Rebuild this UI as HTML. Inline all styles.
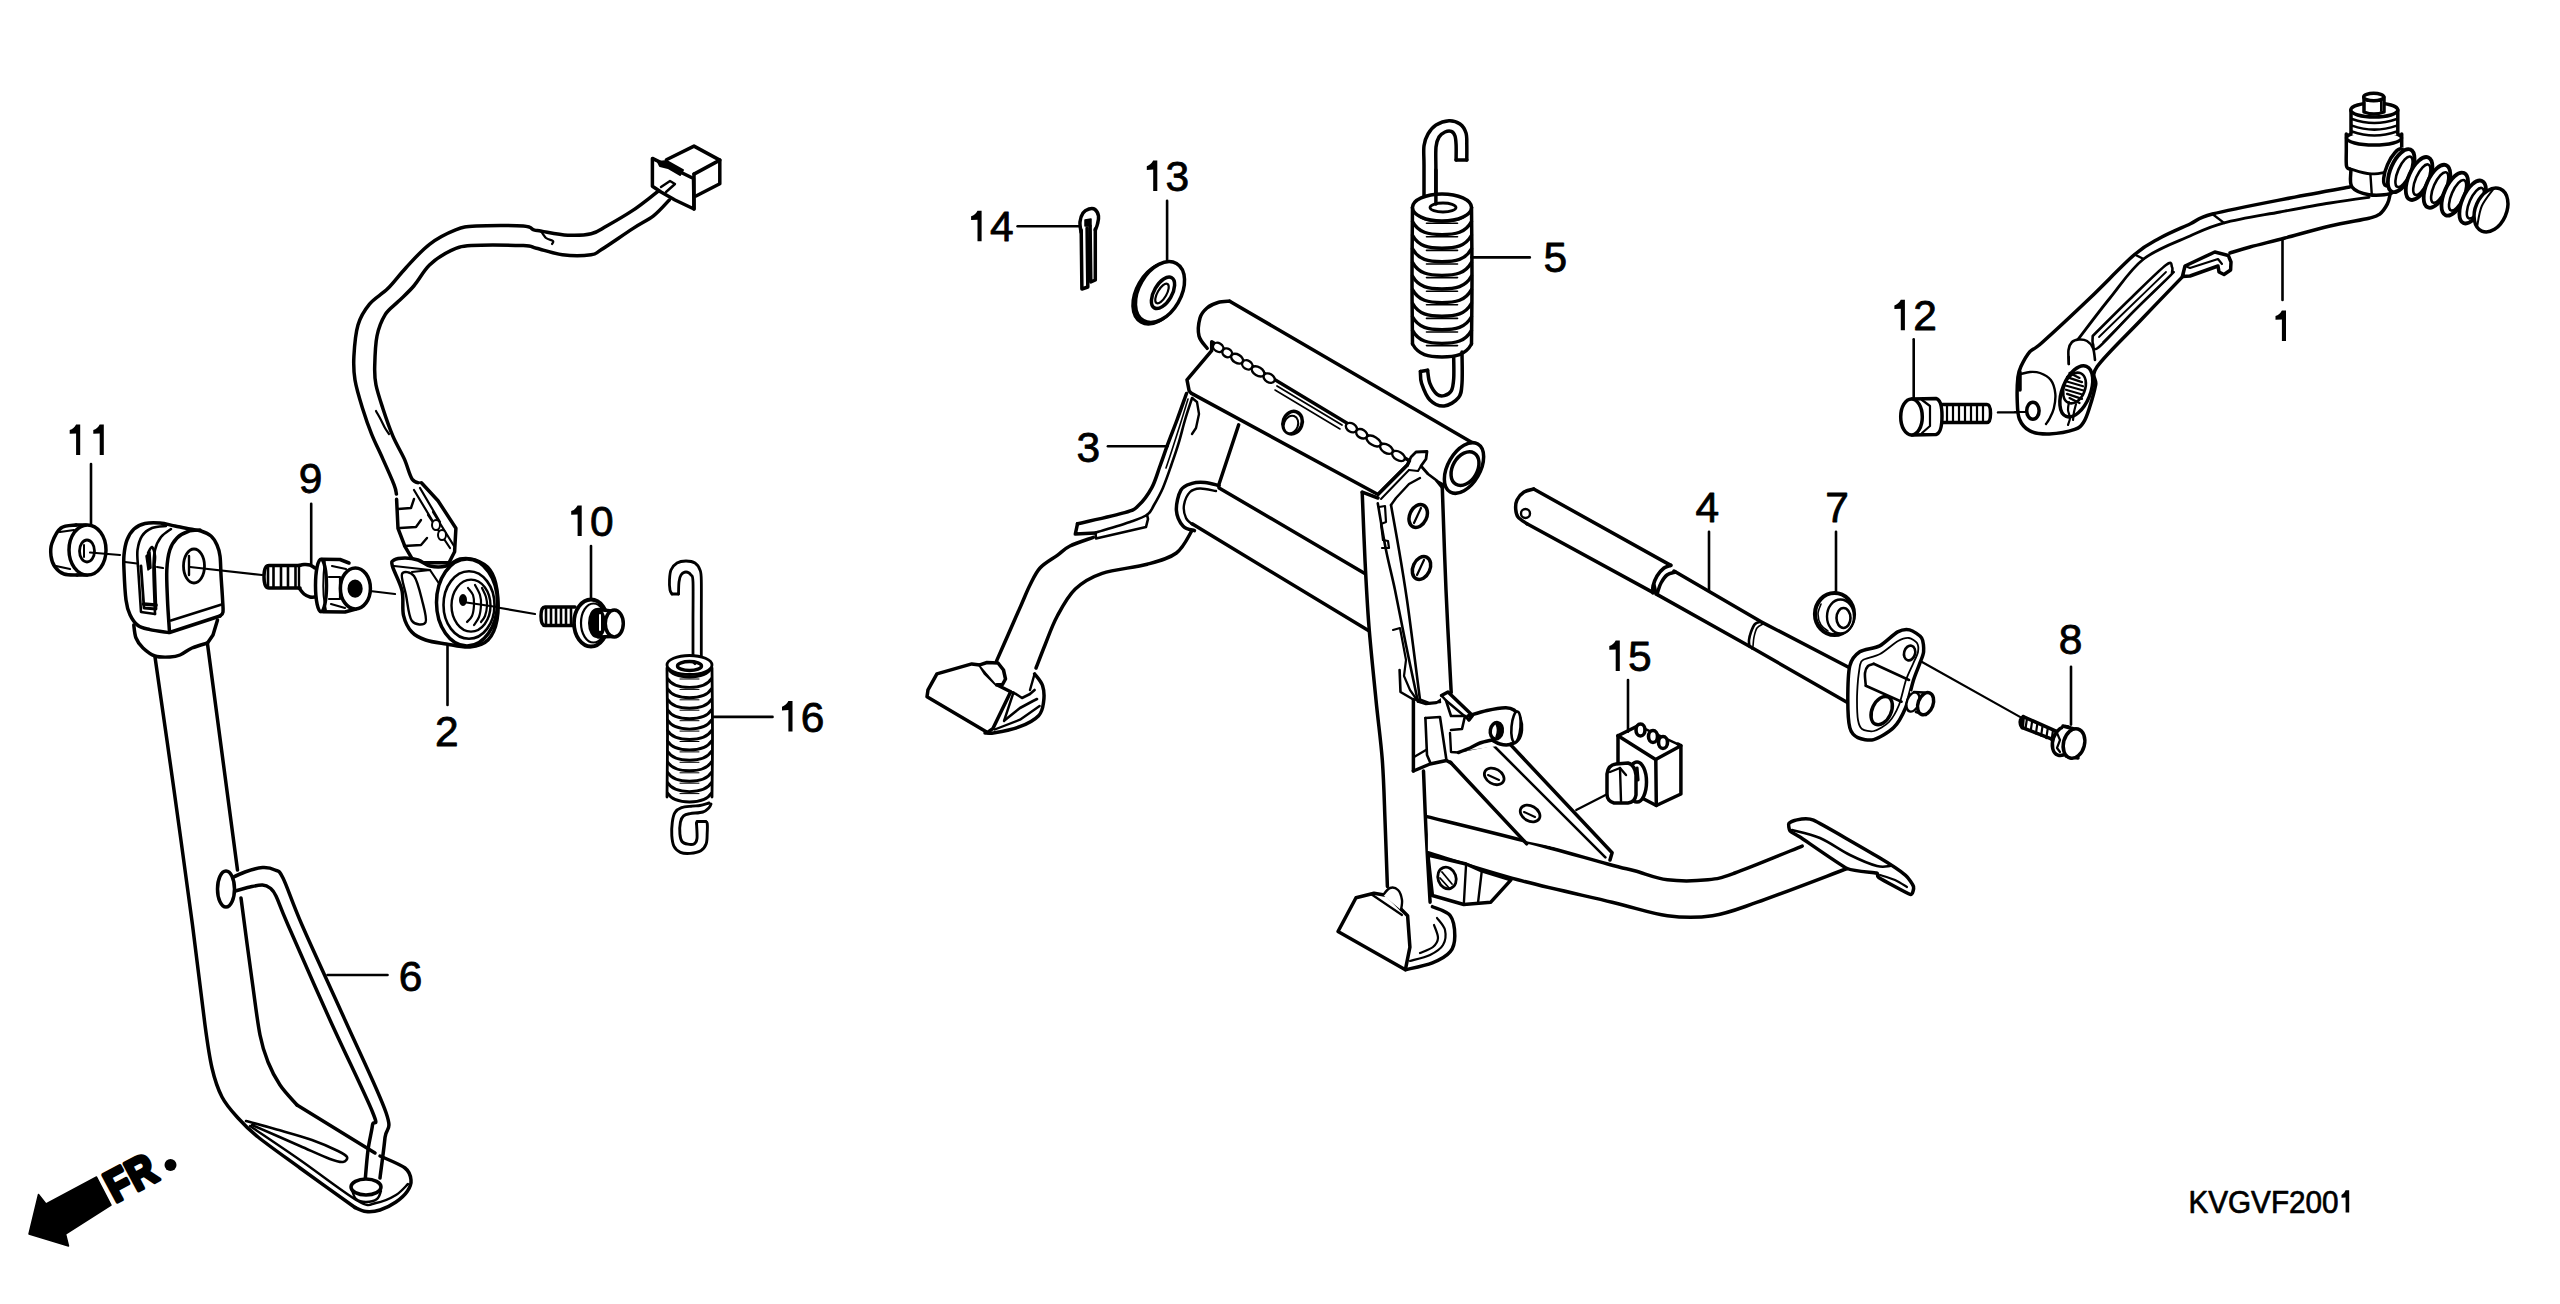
<!DOCTYPE html>
<html><head><meta charset="utf-8"><style>
html,body{margin:0;padding:0;background:#fff;}
svg{display:block;}
svg text{font-family:"Liberation Sans",sans-serif;fill:#000;stroke:none;}
</style></head><body>
<svg width="2560" height="1304" viewBox="0 0 2560 1304" stroke="#000" stroke-linecap="round" stroke-linejoin="round" fill="none">
<rect x="0" y="0" width="2560" height="1304" fill="#fff" stroke="none"/>
<path d="M133.8,625L137.5,642.5L155,657L192.5,925L210,1055L217.5,1087.5L235,1115L255,1135L355,1207.5L357.5,1211L375,1210L395,1202.5L407.5,1192.5L411,1180L407.5,1170L380,1157.5L365,1147.5L300,1107.5L290,1097.5L270,1065L260,1035L242.5,900L207.5,644L217.5,620Z" stroke-width="0" fill="#fff" />
<path d="M155,657C158.2,679.2 167.8,745.3 174,790C180.2,834.7 187.3,885.8 192.5,925C197.7,964.2 201.8,1001.2 205,1025C208.2,1048.8 209.2,1056 212,1068C214.8,1080 217.7,1088.7 222,1097C226.3,1105.3 232,1111.3 238,1118C244,1124.7 247.7,1128.7 258,1137C268.3,1145.3 283.8,1156.2 300,1168C316.2,1179.8 345.8,1200.9 355,1207.5" stroke-width="3.5" fill="none" />
<path d="M355,1207.5C356.8,1208.2 361.8,1211.1 366,1211.5C370.2,1211.9 375,1211.6 380,1210C385,1208.4 391.4,1205.2 396,1202C400.6,1198.8 405,1194.7 407.5,1191C410,1187.3 411.4,1183.8 411,1180C410.6,1176.2 410.2,1172 405,1168C399.8,1164 384.2,1158 380,1156" stroke-width="3.5" fill="none" />
<path d="M250,1126C258.3,1131.7 282,1147.5 300,1160C318,1172.5 345.3,1193.8 358,1201C370.7,1208.2 369.7,1204 376,1203C382.3,1202 390.7,1198.2 396,1195C401.3,1191.8 406,1185.8 408,1184" stroke-width="2.4" fill="none" />
<path d="M207.5,644L237.5,870" stroke-width="3.5" fill="none" />
<path d="M241,898C242.8,911.7 248.8,957.2 252,980C255.2,1002.8 257.3,1021.3 260,1035C262.7,1048.7 264.7,1053.7 268,1062C271.3,1070.3 275.2,1077.8 280,1085C284.8,1092.2 294.2,1101.7 297,1105" stroke-width="3.5" fill="none" />
<path d="M297,1105L375,1153" stroke-width="3.5" fill="none" />
<path d="M246,1121C250.8,1122.3 264,1125.8 275,1129C286,1132.2 301.5,1136.3 312,1140C322.5,1143.7 332.2,1148.2 338,1151C343.8,1153.8 346.2,1155.2 347,1157C347.8,1158.8 345.8,1161.7 343,1162C340.2,1162.3 337.2,1161.7 330,1159C322.8,1156.3 313,1151.7 300,1146C287,1140.3 260,1128.5 252,1125" stroke-width="2.6" fill="none" />
<path d="M133.8,625C134.1,627.2 134.5,634.2 136,638C137.5,641.8 139.8,645 143,648C146.2,651 150.5,654.5 155,656C159.5,657.5 165.8,657.2 170,657C174.2,656.8 176.3,656.5 180,655C183.7,653.5 187.4,650 192,648C196.6,646 204.9,643.8 207.5,643" stroke-width="3.5" fill="none" />
<path d="M207.5,643L213,635L217.5,620" stroke-width="3.5" fill="none" />
<path d="M168.8,632.5C165.7,632 155.1,630.8 150,629.6C144.9,628.4 141.3,628 138,625.5C134.7,623 132,619 130,614.7C128,610.5 127,607.5 126,600C125,592.5 124.3,577.5 124,570C123.7,562.5 123.5,560 124,555C124.5,550 125.3,544.3 127,540C128.7,535.7 131,531.8 134,529C137,526.2 140.7,524.5 145,523.5C149.3,522.5 155,522.6 160,523C165,523.4 170,525 175,526C180,527 185.7,528.2 190,529C194.3,529.8 197.5,529.8 201,531C204.5,532.2 208.3,533.7 211,536C213.7,538.3 215.5,541.7 217,545C218.5,548.3 219.3,551 220,556C220.7,561 220.6,567.7 221,575C221.4,582.3 222.3,593.8 222.6,600C222.9,606.2 223.4,609.3 223,612C222.6,614.7 220.5,615.3 220,616" stroke-width="3.5" fill="#fff" />
<path d="M220,616L169.5,632.5" stroke-width="3.5" fill="none" />
<path d="M221.6,604.5L171,620.5" stroke-width="2.6" fill="none" />
<path d="M169.5,632C169.2,626.7 167.9,610.3 167.5,600C167.1,589.7 166.4,578.3 166.8,570C167.2,561.7 168.1,555.3 169.8,550C171.5,544.7 174,541.1 177,538C180,534.9 184.2,532.8 188,531.5C191.8,530.2 198,530.2 200,530" stroke-width="3.5" fill="none" />
<path d="M138,566C137.9,563.3 136.8,555 137.5,550C138.2,545 139.6,539.7 142,536C144.4,532.3 148,529.7 152,528C156,526.3 163.7,526.3 166,526" stroke-width="2.6" fill="none" />
<path d="M155,614C154.8,606.7 153.5,580.7 153.5,570C153.5,559.3 153.8,555.5 155,550C156.2,544.5 158.3,540.5 161,537C163.7,533.5 169.3,530.3 171,529" stroke-width="2.6" fill="none" />
<path d="M138,566L141,612L155,614" stroke-width="2.6" fill="none" />
<path d="M141,566L144,608L156,609L154.5,566" stroke-width="2.8" fill="none" />
<path d="M143.5,604L156,605" stroke-width="3.6" fill="none" />
<path d="M148,553C148.7,552 150.8,546.5 152,547C153.2,547.5 154.7,552.5 155,556C155.3,559.5 154.2,566 154,568" stroke-width="2.6" fill="none" />
<path d="M146,556L148,570L151,568L150,552Z" stroke-width="1.5" fill="#000" />
<ellipse cx="194" cy="566" rx="10.5" ry="17" stroke-width="2.8" fill="#fff"/>
<path d="M189,556L189,575" stroke-width="2.4" fill="none" />
<path d="M125,562L137,563.5" stroke-width="2.2"/>
<path d="M157,567L163,568" stroke-width="2.2"/>
<path d="M190,567L262,575" stroke-width="2.2"/>
<path d="M230,892.5C233.3,891.6 244.6,888.2 250,887C255.4,885.8 259.2,884.8 262.5,885C265.8,885.2 267.8,886.2 270,888C272.2,889.8 273,889.8 276,896C279,902.2 279,904.3 288,925C297,945.7 315.9,988.8 330,1020C344.1,1051.2 365.4,1094.5 372.5,1112C379.6,1129.5 373.2,1118.7 372.5,1125C371.8,1131.3 369.2,1140.5 368,1150C366.8,1159.5 365.5,1176.7 365,1182" stroke-width="3.5" fill="none" />
<path d="M227.5,880C230.4,878.7 239.2,874.1 245,872C250.8,869.9 257.5,867.8 262.5,867.5C267.5,867.2 271.6,868.2 275,870C278.4,871.8 278.5,868.8 283,878C287.5,887.2 291.7,901.3 302,925C312.3,948.7 331,988.8 345,1020C359,1051.2 379.3,1092.9 386,1112.5C392.7,1132.1 386,1126.6 385,1137.5C384,1148.4 380.8,1171.2 380,1178" stroke-width="3.5" fill="none" />
<ellipse cx="226" cy="889" rx="8.5" ry="18" stroke-width="3.5" fill="#fff"/>
<ellipse cx="366" cy="1187" rx="15" ry="8" stroke-width="3.5" fill="#fff"/>
<path d="M352,1190C352.7,1191.5 353.7,1197 356,1199C358.3,1201 362.5,1202 366,1202C369.5,1202 374.5,1200.8 377,1199C379.5,1197.2 380.3,1192.3 381,1191" stroke-width="2.4" fill="none" />
<path d="M76,525C73.5,525.5 65,525 61,528C57,531 53.7,538.3 52,543C50.3,547.7 50.5,552 51,556C51.5,560 52.8,564 55,567C57.2,570 60.3,572.7 64,574C67.7,575.3 74.8,574.8 77,575" stroke-width="3.5" fill="#fff" />
<path d="M60,532L74,530" stroke-width="2.2" fill="none" />
<path d="M56,566L70,569" stroke-width="2.2" fill="none" />
<path d="M76,525L86,525" stroke-width="3.5" fill="none" />
<path d="M77,575L87,575" stroke-width="3.5" fill="none" />
<ellipse cx="87.5" cy="550" rx="18.5" ry="25" stroke-width="3.5" fill="#fff"/>
<ellipse cx="87" cy="551" rx="7.5" ry="11" stroke-width="2.8" fill="#fff"/>
<path d="M84,545L84,557" stroke-width="2" fill="none" />
<path d="M90,552.5L120,555" stroke-width="2.2"/>
<path d="M300,565.5 L269,565.5 Q264,565.5 264,576.5 Q264,588 269,588 L300,588" stroke-width="3.5" fill="#fff" />
<path d="M268,567L268,586.5" stroke-width="2.6" fill="none" />
<path d="M273.5,567L273.5,586.5" stroke-width="2.6" fill="none" />
<path d="M281,567L281,586.5" stroke-width="2.6" fill="none" />
<path d="M288,567L288,586.5" stroke-width="2.6" fill="none" />
<path d="M295.5,567L295.5,586.5" stroke-width="2.6" fill="none" />
<path d="M299,565.5C299.8,565.3 302.2,564.6 304,564.5C305.8,564.4 308.2,564.4 310,565C311.8,565.6 314.2,567.5 315,568" stroke-width="3.5" fill="none" />
<path d="M299,588C299.8,589 302.2,592.5 304,594C305.8,595.5 308,596.5 310,597C312,597.5 315,597 316,597" stroke-width="3.5" fill="none" />
<path d="M299,566L299,588" stroke-width="2.4" fill="none" />
<path d="M322,559.5 L352,561 L356,611 L322,612 Z" stroke-width="0" fill="#fff" />
<ellipse cx="321" cy="585.5" rx="5.5" ry="26.3" stroke-width="3.5" fill="#fff"/>
<path d="M325,560C324.8,562.5 323.8,569.2 323.5,575C323.2,580.8 323.1,589.2 323.5,595C323.9,600.8 325.6,607.5 326,610" stroke-width="1.8" fill="none" />
<path d="M322,559.3L340,559.5L349,563" stroke-width="3.5" fill="none" />
<path d="M323,611.8L345,612L356,609" stroke-width="3.5" fill="none" />
<path d="M332,566L346,569" stroke-width="2.2" fill="none" />
<path d="M329,577L340,577L340,599L329,599" stroke-width="2.2" fill="none" />
<path d="M331,604L345,608" stroke-width="2.2" fill="none" />
<ellipse cx="355.4" cy="588.4" rx="15" ry="20.5" stroke-width="3.5" fill="#fff"/>
<ellipse cx="355.1" cy="588.7" rx="6.5" ry="8" stroke-width="2.2" fill="#000"/>
<path d="M370,591L395,594" stroke-width="2.2"/>
<path d="M575,607 L545,607 Q541,607 541,616 Q541,625.5 545,625.5 L575,625.5" stroke-width="3.5" fill="#fff" />
<path d="M546,608L546,624.5" stroke-width="2.6" fill="none" />
<path d="M551,608L551,624.5" stroke-width="2.6" fill="none" />
<path d="M556,608L556,624.5" stroke-width="2.6" fill="none" />
<path d="M561,608L561,624.5" stroke-width="2.6" fill="none" />
<path d="M566,608L566,624.5" stroke-width="2.6" fill="none" />
<path d="M571,608L571,624.5" stroke-width="2.6" fill="none" />
<ellipse cx="591" cy="623" rx="17" ry="23.5" stroke-width="3.8" fill="#fff"/>
<ellipse cx="593.5" cy="623" rx="12.5" ry="19.5" stroke-width="2.2" fill="none"/>
<path d="M598,609 L612,611 L613,636 L598,638 Z" stroke-width="0" fill="#fff" />
<ellipse cx="597" cy="623" rx="8" ry="14" stroke-width="2" fill="#000"/>
<path d="M600,615 L600,630" stroke="#fff" stroke-width="2"/>
<path d="M598,609.5L612,611" stroke-width="3.5" fill="none" />
<path d="M598,637L612,636.5" stroke-width="3.5" fill="none" />
<ellipse cx="614.3" cy="623.5" rx="9" ry="13.5" stroke-width="3.5" fill="#fff"/>
<path d="M497.5,607.5L535,614" stroke-width="2.2"/>
<path d="M666.7,184.3C664.6,186 659.4,190.3 653.8,194.7C648.1,199 640.6,205.2 632.8,210.4C624.9,215.6 613.7,222.1 606.7,226C599.8,229.9 597.6,232.3 591.1,233.8C584.6,235.3 576,235.6 567.7,235.2C559.5,234.8 547.2,232.1 541.6,231.2C536,230.3 536.8,230.8 533.8,229.9C530.8,229 532.9,226.7 523.3,226C513.7,225.3 487.7,225.3 476.4,226C465.1,226.7 463.4,226.8 455.6,229.9C447.8,233 437.8,238 429.5,244.3C421.2,250.6 412.9,260.3 406,267.7C399.1,275.1 393.9,282.5 387.8,288.6C381.7,294.7 374.5,298.1 369.5,304.2C364.5,310.3 360.6,316.3 358,325C355.4,333.7 354.4,347.2 353.9,356.4C353.4,365.6 353.6,371.4 355,380C356.4,388.6 359.7,399.2 362.5,408.2C365.3,417.2 368.2,425.7 371.6,434.1C375,442.6 379.1,450.4 382.8,458.9C386.6,467.3 391.8,478.9 394.1,484.8C396.4,490.7 396,492.5 396.4,494" stroke-width="3.5" fill="none" />
<path d="M669.3,200C666.7,202.6 659.9,210.8 653.8,215.6C647.7,220.4 641.5,222.9 632.8,228.6C624.1,234.2 608.5,245.2 601.5,249.5C594.5,253.8 597.6,253.8 591.1,254.7C584.6,255.6 571.5,255.8 562.4,254.7C553.3,253.6 542.9,249.7 536.4,248.2C529.9,246.7 534.2,246 523.3,245.6C512.4,245.2 483.4,244.7 471.2,245.6C459,246.5 457.2,247.6 450.3,250.8C443.4,254.1 435.6,259.2 429.5,265.1C423.4,271 419,279.9 413.8,286C408.6,292.1 403,296.8 398.2,301.6C393.4,306.4 388.7,309 385.2,314.7C381.7,320.4 378.8,327.3 377,336C375.2,344.7 374.9,358.6 374.7,366.8C374.5,375 374.6,378.1 376,385C377.4,391.9 380,399.6 382.8,408.2C385.6,416.8 389.4,427.9 393,436.4C396.6,444.8 401.1,451.8 404.3,458.9C407.5,466 409.4,475.1 412.2,479.2C415,483.3 419.1,482.4 421.2,483.7C423.3,485 424,486.5 424.6,487.1" stroke-width="3.5" fill="none" />
<path d="M541,231C541.8,232.2 544,236.3 546,238C548,239.7 552,240 553,241C554,242 552.2,243.5 552,244" stroke-width="2.2" fill="none" />
<path d="M376,411C376.8,412.5 379.5,417.2 381,420C382.5,422.8 383.7,425.7 385,428C386.3,430.3 388.3,433 389,434" stroke-width="2.2" fill="none" />
<path d="M652.4,158.4L693.5,178.5L694,209L675,200L661,192L652.4,186.3Z" stroke-width="3.5" fill="#fff" />
<path d="M666.4,159.7L694,146.1L719.8,160.1L694,174.1" stroke-width="3.5" fill="none" />
<path d="M719.8,160.1L719.8,183.7L696,196" stroke-width="3.5" fill="none" />
<path d="M694,174.1L694,209" stroke-width="3.5" fill="none" />
<path d="M658,162L667,161L683,170L680,175L668,168L660,166Z" stroke-width="2" fill="#000" />
<path d="M661,187L670,181L675,184L666,192" stroke-width="2.4" fill="none" />
<path d="M396.6,499.3L398,528.3L404.9,546.3L414.5,562.8L449,562.8L454.6,551.8L455.9,528.3L438,500.7L421.4,482.8" stroke-width="3.5" fill="#fff" />
<path d="M398,509L411,508L414,499" stroke-width="2.4" fill="none" />
<path d="M400,528L416,527L421,520" stroke-width="2.4" fill="none" />
<path d="M404,546L421,545L427,538" stroke-width="2.4" fill="none" />
<path d="M414,490L432,520" stroke-width="2.2" fill="none" />
<path d="M420,488L440,522" stroke-width="2.2" fill="none" />
<path d="M428,515L450,548" stroke-width="2.2" fill="none" />
<path d="M433,512L454,546" stroke-width="2.2" fill="none" />
<ellipse cx="436" cy="525" rx="4" ry="5" stroke-width="2" fill="#fff"/>
<ellipse cx="442" cy="535" rx="4" ry="5" stroke-width="2" fill="#fff"/>
<path d="M392.4,566C391.1,560.9 391.9,561.3 394,560C396.1,558.7 401,558 405,558C409,558 413.8,558.7 418,560C422.2,561.3 425.3,565 430,566C434.7,567 441,567.2 446,566C451,564.8 455.2,560 460,559C464.8,558 470,558.2 475,560C480,561.8 486.3,565 490,570C493.7,575 495.8,581.7 497,590C498.2,598.3 498.5,611.7 497,620C495.5,628.3 492.5,635.5 488,640C483.5,644.5 476.9,646.3 470,647C463.1,647.7 453.7,645.2 446.3,644C438.9,642.8 431.4,642 425.6,640C419.9,638 415.5,636.1 411.8,632C408.1,627.9 405.1,622.2 403.5,615.3C401.9,608.4 403.9,598.7 402,590.5C400.1,582.3 393.7,571.1 392.4,566Z" stroke-width="3.5" fill="#fff" />
<path d="M394,566L430,570" stroke-width="2.2" fill="none" />
<path d="M402,574C400.7,577.2 404.4,587.2 406,595C407.6,602.8 408.5,616.3 411.8,620.8C415.1,625.3 423.9,625.7 425.6,622.2C427.3,618.7 423.9,607.7 422,600C420.1,592.3 417.3,580.3 414,576C410.7,571.7 403.3,570.8 402,574Z" stroke-width="2.4" fill="none" />
<path d="M412,572L430,570L440,585" stroke-width="2.2" fill="none" />
<ellipse cx="467" cy="602.5" rx="30.5" ry="43.5" stroke-width="3.5" fill="#fff"/>
<ellipse cx="469" cy="605" rx="25.5" ry="33.8" stroke-width="2.6" fill="#fff"/>
<ellipse cx="471" cy="605.6" rx="19.5" ry="26" stroke-width="2.4" fill="#fff"/>
<path d="M468,588C468.8,589.2 472,592.2 473,595C474,597.8 474.2,601.5 474,605C473.8,608.5 473.2,613.2 472,616C470.8,618.8 467.8,621 467,622" stroke-width="2.2" fill="none" />
<path d="M475,585C475.8,586.7 479,591.7 480,595C481,598.3 481.2,601.3 481,605C480.8,608.7 480.2,613.7 479,617C477.8,620.3 474.8,623.7 474,625" stroke-width="2.2" fill="none" />
<path d="M482,588C482.7,589.5 485.2,594 486,597C486.8,600 487.2,602.8 487,606C486.8,609.2 486,613.3 485,616C484,618.7 481.7,621 481,622" stroke-width="2.2" fill="none" />
<path d="M463,602L497,607" stroke-width="2" fill="none" />
<ellipse cx="463" cy="600" rx="3" ry="5" stroke-width="2" fill="#000"/>
<path d="M701.3,662C701.3,655 701.3,633.7 701.3,620C701.3,606.3 701.5,588.3 701.3,580C701.1,571.7 701,572.8 700,570C699,567.2 697.3,564.5 695,563C692.7,561.5 689,561 686,561C683,561 679.5,561.5 677,563C674.5,564.5 672.2,567.2 671,570C669.8,572.8 669.7,576.7 669.5,580C669.3,583.3 669.6,587.7 670,590C670.4,592.3 671.7,593.3 672,594" stroke-width="2.8" fill="none" />
<path d="M672,594L678.5,594" stroke-width="2.8" fill="none" />
<path d="M678.5,594C678.6,592 678.6,585.2 679,582C679.4,578.8 679.8,576.7 681,575C682.2,573.3 684.3,572 686,572C687.7,572 689.8,573.3 691,575C692.2,576.7 692.7,574.5 693,582C693.3,589.5 693,606.7 693,620C693,633.3 693,655 693,662" stroke-width="2.8" fill="none" />
<path d="M667,668 L667,797 Q667,806 689.5,806 Q712,806 712,797 L712,668 Z" stroke-width="0" fill="#fff" />
<path d="M667,668C667.1,679.2 667.5,713.5 667.5,735C667.5,756.5 667.1,786.7 667,797" stroke-width="2.8" fill="none" />
<path d="M712,668C712.1,679.2 712.5,713.5 712.5,735C712.5,756.5 712.1,786.7 712,797" stroke-width="2.8" fill="none" />
<ellipse cx="689.5" cy="665" rx="22.5" ry="9.5" stroke-width="2.8" fill="#fff"/>
<ellipse cx="689.5" cy="666" rx="12" ry="4.5" stroke-width="3.4" fill="#fff"/>
<path d="M693,662L695,664" stroke-width="2.4" fill="none" />
<path d="M667.5,668 C672,675.5 680,677 689.5,677 C699,677 707,675.5 711.5,668" stroke-width="2.9" fill="none" />
<path d="M680,679 L699,679" stroke-width="1.0" fill="none" />
<path d="M667.5,678.4 C672,685.9 680,687.4 689.5,687.4 C699,687.4 707,685.9 711.5,678.4" stroke-width="2.9" fill="none" />
<path d="M680,689.4 L699,689.4" stroke-width="1.0" fill="none" />
<path d="M667.5,688.8 C672,696.3 680,697.8 689.5,697.8 C699,697.8 707,696.3 711.5,688.8" stroke-width="2.9" fill="none" />
<path d="M680,699.8 L699,699.8" stroke-width="1.0" fill="none" />
<path d="M667.5,699.2 C672,706.8 680,708.2 689.5,708.2 C699,708.2 707,706.8 711.5,699.2" stroke-width="2.9" fill="none" />
<path d="M680,710.2 L699,710.2" stroke-width="1.0" fill="none" />
<path d="M667.5,709.7 C672,717.2 680,718.7 689.5,718.7 C699,718.7 707,717.2 711.5,709.7" stroke-width="2.9" fill="none" />
<path d="M680,720.7 L699,720.7" stroke-width="1.0" fill="none" />
<path d="M667.5,720.1 C672,727.6 680,729.1 689.5,729.1 C699,729.1 707,727.6 711.5,720.1" stroke-width="2.9" fill="none" />
<path d="M680,731.1 L699,731.1" stroke-width="1.0" fill="none" />
<path d="M667.5,730.5 C672,738 680,739.5 689.5,739.5 C699,739.5 707,738 711.5,730.5" stroke-width="2.9" fill="none" />
<path d="M680,741.5 L699,741.5" stroke-width="1.0" fill="none" />
<path d="M667.5,740.9 C672,748.4 680,749.9 689.5,749.9 C699,749.9 707,748.4 711.5,740.9" stroke-width="2.9" fill="none" />
<path d="M680,751.9 L699,751.9" stroke-width="1.0" fill="none" />
<path d="M667.5,751.3 C672,758.8 680,760.3 689.5,760.3 C699,760.3 707,758.8 711.5,751.3" stroke-width="2.9" fill="none" />
<path d="M680,762.3 L699,762.3" stroke-width="1.0" fill="none" />
<path d="M667.5,761.8 C672,769.2 680,770.8 689.5,770.8 C699,770.8 707,769.2 711.5,761.8" stroke-width="2.9" fill="none" />
<path d="M680,772.8 L699,772.8" stroke-width="1.0" fill="none" />
<path d="M667.5,772.2 C672,779.7 680,781.2 689.5,781.2 C699,781.2 707,779.7 711.5,772.2" stroke-width="2.9" fill="none" />
<path d="M680,783.2 L699,783.2" stroke-width="1.0" fill="none" />
<path d="M667.5,782.6 C672,790.1 680,791.6 689.5,791.6 C699,791.6 707,790.1 711.5,782.6" stroke-width="2.9" fill="none" />
<path d="M680,793.6 L699,793.6" stroke-width="1.0" fill="none" />
<path d="M667.5,793 C672,800.5 680,802 689.5,802 C699,802 707,800.5 711.5,793" stroke-width="2.9" fill="none" />
<path d="M709,803C707.5,803.4 702.8,805 700,805.5C697.2,806 695.3,805.7 692.2,806.1C689.1,806.5 684.4,806.6 681.5,807.7C678.6,808.8 676.5,810.1 675,812.5C673.5,814.9 672.8,818.4 672.3,822.2C671.8,826.1 671.5,831.6 671.8,835.6C672.1,839.6 672.6,843.6 674,846.4C675.4,849.2 677.7,851.1 680.4,852.3C683.1,853.5 686.7,853.7 690.1,853.4C693.5,853.1 698.1,852.3 700.8,850.7C703.5,849.1 705.1,846.7 706.2,843.7C707.3,840.7 707,836.3 707.2,832.9C707.4,829.5 707.5,825.2 707.2,823.3C706.9,821.4 705.9,821.8 705.6,821.5" stroke-width="2.9" fill="none" />
<path d="M705.6,821.5L697,821.5L696.5,823.3" stroke-width="2.9" fill="none" />
<path d="M696.5,823.3C696.6,825.8 697.4,834.9 697,838.3C696.6,841.7 695.9,842.7 694.4,843.7C692.9,844.7 690,844.6 687.9,844.2C685.8,843.8 683.3,843.2 682,841.5C680.7,839.8 680.2,837.2 679.9,834C679.6,830.8 679.8,825.2 680.4,822.2C681,819.2 682,817.2 683.6,815.8C685.2,814.4 686.9,814.2 690.1,813.6C693.3,813 699.8,813 702.9,812C706,811 707.6,809 709,807.7C710.4,806.4 710.7,804.6 711,804" stroke-width="2.9" fill="none" />
<path d="M29,1234L38.5,1194.5L46,1204L96.5,1177L111,1205L65.5,1234L68.5,1246Z" stroke-width="1.5" fill="#000" />
<circle cx="170.5" cy="1165" r="6" fill="#000" stroke="none"/>
<text x="0" y="0" font-size="44" font-weight="bold" style="stroke:#000;stroke-width:4px" transform="translate(115,1203) rotate(-28) scale(0.86,1)" letter-spacing="1">FR</text>
<path d="M1081,232C1080.8,230.3 1079.7,225.2 1080,222C1080.3,218.8 1081.5,215.2 1083,213C1084.5,210.8 1087,209.6 1089,209C1091,208.4 1093.4,208.3 1095,209.5C1096.6,210.7 1098.1,213.6 1098.5,216C1098.9,218.4 1098,221.7 1097.5,224C1097,226.3 1095.7,229 1095.3,230" stroke-width="3.5" fill="none" />
<path d="M1081.2,230L1081.9,289L1087.8,287L1087.1,228" stroke-width="3.5" fill="none" />
<path d="M1090.1,226L1090.8,282L1095.3,280L1095.3,229" stroke-width="3.5" fill="none" />
<path d="M1085,220L1091,219L1091,226L1085,226Z" stroke-width="1.5" fill="#000" />
<ellipse cx="1157.5" cy="293.5" rx="33" ry="21" stroke-width="3.5" fill="#fff" transform="rotate(-60 1157.5 293.5)"/>
<ellipse cx="1160" cy="292" rx="33" ry="21" stroke-width="3.5" fill="#fff" transform="rotate(-60 1160 292)"/>
<ellipse cx="1163" cy="292.8" rx="17.4" ry="8.9" stroke-width="3.5" fill="#fff" transform="rotate(-60 1163 292.8)"/>
<ellipse cx="1162" cy="293.5" rx="11" ry="4.5" stroke-width="2.2" fill="#fff" transform="rotate(-60 1162 293.5)"/>
<path d="M1424,200C1424,194.2 1424,174.1 1424,165C1424,155.9 1423.3,150.9 1424,145.7C1424.7,140.5 1426,137.4 1428,134C1430,130.6 1432.5,127.2 1436,125C1439.5,122.8 1445,120.9 1449,120.7C1453,120.5 1457.2,122 1460,124C1462.8,126 1464.9,129.5 1466,133C1467.1,136.5 1466.7,140.5 1466.8,145C1466.9,149.5 1466.8,157.5 1466.8,160" stroke-width="3.5" fill="none" />
<path d="M1466.8,160L1456.1,160" stroke-width="3.5" fill="none" />
<path d="M1456.1,160C1456.1,157.5 1456.3,149 1456.1,145C1455.9,141 1455.8,138.3 1455,136C1454.2,133.7 1453,132.1 1451.3,131.4C1449.6,130.7 1447,131.1 1445,132C1443,132.9 1440.5,134.5 1439,137C1437.5,139.5 1436.5,141.5 1436,147C1435.5,152.5 1435.9,160.3 1435.9,170C1435.9,179.7 1435.9,199.2 1435.9,205" stroke-width="3.5" fill="none" />
<path d="M1412.5,207 L1412.5,350 Q1412.5,360 1442.0,360 Q1471.5,360 1471.5,350 L1471.5,207 Z" stroke-width="0" fill="#fff" />
<path d="M1412.5,208 C1418.5,219 1428.5,221 1442,221 C1455.5,221 1465.5,219 1471.5,208" stroke-width="3.4" fill="none" />
<path d="M1426.5,223.2 L1457.5,223.2" stroke-width="1.6" fill="none" />
<path d="M1412.5,221.6 C1418.5,232.6 1428.5,234.6 1442,234.6 C1455.5,234.6 1465.5,232.6 1471.5,221.6" stroke-width="3.4" fill="none" />
<path d="M1426.5,236.8 L1457.5,236.8" stroke-width="1.6" fill="none" />
<path d="M1412.5,235.2 C1418.5,246.2 1428.5,248.2 1442,248.2 C1455.5,248.2 1465.5,246.2 1471.5,235.2" stroke-width="3.4" fill="none" />
<path d="M1426.5,250.4 L1457.5,250.4" stroke-width="1.6" fill="none" />
<path d="M1412.5,248.8 C1418.5,259.8 1428.5,261.8 1442,261.8 C1455.5,261.8 1465.5,259.8 1471.5,248.8" stroke-width="3.4" fill="none" />
<path d="M1426.5,264 L1457.5,264" stroke-width="1.6" fill="none" />
<path d="M1412.5,262.4 C1418.5,273.4 1428.5,275.4 1442,275.4 C1455.5,275.4 1465.5,273.4 1471.5,262.4" stroke-width="3.4" fill="none" />
<path d="M1426.5,277.6 L1457.5,277.6" stroke-width="1.6" fill="none" />
<path d="M1412.5,276 C1418.5,287 1428.5,289 1442,289 C1455.5,289 1465.5,287 1471.5,276" stroke-width="3.4" fill="none" />
<path d="M1426.5,291.2 L1457.5,291.2" stroke-width="1.6" fill="none" />
<path d="M1412.5,289.6 C1418.5,300.6 1428.5,302.6 1442,302.6 C1455.5,302.6 1465.5,300.6 1471.5,289.6" stroke-width="3.4" fill="none" />
<path d="M1426.5,304.8 L1457.5,304.8" stroke-width="1.6" fill="none" />
<path d="M1412.5,303.2 C1418.5,314.2 1428.5,316.2 1442,316.2 C1455.5,316.2 1465.5,314.2 1471.5,303.2" stroke-width="3.4" fill="none" />
<path d="M1426.5,318.4 L1457.5,318.4" stroke-width="1.6" fill="none" />
<path d="M1412.5,316.8 C1418.5,327.8 1428.5,329.8 1442,329.8 C1455.5,329.8 1465.5,327.8 1471.5,316.8" stroke-width="3.4" fill="none" />
<path d="M1426.5,332 L1457.5,332" stroke-width="1.6" fill="none" />
<path d="M1412.5,330.4 C1418.5,341.4 1428.5,343.4 1442,343.4 C1455.5,343.4 1465.5,341.4 1471.5,330.4" stroke-width="3.4" fill="none" />
<path d="M1426.5,345.6 L1457.5,345.6" stroke-width="1.6" fill="none" />
<path d="M1412.5,344 C1418.5,355 1428.5,357 1442,357 C1455.5,357 1465.5,355 1471.5,344" stroke-width="3.4" fill="none" />
<path d="M1412.5,207C1412.4,218.9 1412,255.7 1412,278.5C1412,301.3 1412.4,333.1 1412.5,344" stroke-width="3.5" fill="none" />
<path d="M1471.5,207C1471.6,218.9 1472,255.7 1472,278.5C1472,301.3 1471.6,333.1 1471.5,344" stroke-width="3.5" fill="none" />
<ellipse cx="1442" cy="207.5" rx="29.5" ry="13.5" stroke-width="3.5" fill="#fff"/>
<ellipse cx="1443" cy="207.5" rx="13" ry="4.5" stroke-width="2.8" fill="#fff"/>
<path d="M1435.9,170L1435.9,204" stroke-width="3.5" fill="none" />
<path d="M1462,352C1462,357.2 1462.6,375.8 1462,383.4C1461.4,391 1461.5,393.9 1458.5,397.7C1455.5,401.5 1449,405.6 1444.2,406C1439.4,406.4 1433.7,403.8 1429.9,400C1426.1,396.2 1423.2,388.1 1421.6,383.4C1420,378.6 1420.6,373.5 1420.4,371.5" stroke-width="3.5" fill="none" />
<path d="M1420.4,371.5L1427.6,370.3" stroke-width="3.5" fill="none" />
<path d="M1427.6,370.3C1428,372.5 1428.3,379.4 1429.9,383.4C1431.5,387.4 1434.7,392.4 1437.1,394.4C1439.5,396.4 1441.8,396.2 1444.2,395.6C1446.6,395 1449.7,393.7 1451.3,390.9C1452.9,388.1 1453.3,384.3 1453.7,378.7C1454.1,373.1 1453.7,360.6 1453.7,357" stroke-width="3.5" fill="none" />
<path d="M1093.3,537.3C1089.4,538.8 1076,543 1070,546C1064,549 1062.3,551.6 1057.3,555.3C1052.3,559 1044.5,563 1040,568C1035.5,573 1033.1,578.9 1030,585C1026.9,591.1 1025,596.4 1021.3,604.7C1017.6,613 1012.1,625.6 1008,635C1003.9,644.4 998.5,656.6 996.6,660.9" stroke-width="3.5" fill="none" />
<path d="M1192,530.6C1189.4,534.3 1183.9,547.4 1176.4,553C1168.9,558.6 1159.6,560.9 1147.2,564.3C1134.8,567.7 1114.2,569.2 1102.2,573.3C1090.2,577.4 1082.8,581.9 1075.3,589C1067.8,596.1 1062.3,606.7 1057.3,616C1052.2,625.3 1048.5,636.3 1045,645C1041.5,653.7 1037.5,664.2 1036,668" stroke-width="3.5" fill="none" />
<path d="M1186.5,393.5C1184.9,397.9 1180.2,411.4 1177,420C1173.8,428.6 1170.2,437.5 1167.4,445.2C1164.6,452.9 1162.6,458.9 1160,466C1157.4,473.1 1155.3,481.3 1151.7,487.9C1148.1,494.5 1142.7,501.7 1138.2,505.8C1133.7,509.9 1134.8,509.6 1124.7,512.6C1114.6,515.6 1085.4,521.9 1077.5,523.8" stroke-width="3.5" fill="none" />
<path d="M1192.1,398C1190.9,401.7 1187.2,412.5 1185,420C1182.8,427.5 1181,435.2 1178.7,442.9C1176.4,450.6 1173.6,458.5 1171,466C1168.4,473.5 1165.7,481.4 1162.9,487.9C1160.1,494.4 1156.6,500.5 1154,505C1151.4,509.5 1151.2,512 1147.2,514.8C1143.2,517.6 1138.6,519 1130,522C1121.4,525 1101.2,531 1095.5,532.8" stroke-width="2.6" fill="none" />
<path d="M1188,399C1186.7,403.3 1182.7,416.5 1180,425C1177.3,433.5 1174.3,442.8 1172,450C1169.7,457.2 1167,465 1166,468" stroke-width="1.6" fill="none" />
<path d="M1077.5,523.8L1075.3,534L1095.5,533" stroke-width="3.5" fill="none" />
<path d="M1095.5,532.8L1096,538.5L1120,533L1146,527L1148,519L1147,514.8" stroke-width="2.6" fill="none" />
<path d="M1192.1,398L1197,402L1199,414L1196,428L1192,434" stroke-width="2.4" fill="none" />
<path d="M1034.6,673.9C1035.9,675.9 1041.1,681.1 1042.6,685.8C1044.1,690.4 1044.3,696.8 1043.6,701.8C1042.9,706.8 1042.6,711.6 1038.6,715.7C1034.6,719.9 1027,723.9 1019.7,726.7C1012.4,729.5 1000.5,731.7 994.7,732.7C988.9,733.8 986.6,733 985,733" stroke-width="3.5" fill="#fff" />
<path d="M927,696.8L928,689.8L936.9,673.9L971.8,663.9L979.8,664.9L984.8,672.9L996.7,684.8L1010.7,691.8L992.8,728.7L987.5,732.5Z" stroke-width="3.5" fill="#fff" />
<path d="M979.8,664.9L987,662.5L998,663L1003.5,670L1005.5,679L1002.5,684.5L996.7,684.8" stroke-width="3.5" fill="#fff" />
<path d="M1010.7,691.8L1016,694L1022,698L1030,694L1034.6,690" stroke-width="2.6" fill="none" />
<path d="M1005,720L1020,708L1033,701L1037,699" stroke-width="2.6" fill="none" />
<path d="M994.7,729.5L1020,719.7L1039.6,706" stroke-width="2.4" fill="none" />
<path d="M1013.5,692.5L1004,721" stroke-width="2.4" fill="none" />
<path d="M1034.6,673.9L1030,690" stroke-width="2.4" fill="none" />
<path d="M1219.1,486L1366.5,574.6L1368.8,630.8L1194.4,527Z" stroke-width="0" fill="#fff" />
<path d="M1219.1,485.6C1216.8,485.1 1209.5,482.9 1205,482.5C1200.5,482.1 1196.1,482.1 1192.1,483.4C1188.1,484.7 1183.5,485.6 1180.9,490.1C1178.3,494.6 1176,504.3 1176.4,510.3C1176.8,516.3 1180.1,522.7 1183.1,526.1C1186.1,529.5 1192.5,529.9 1194.4,530.6" stroke-width="3.5" fill="#fff" />
<path d="M1216,491C1213.3,490.6 1204.3,488.3 1200,488.5C1195.7,488.7 1192.7,489.2 1190,492C1187.3,494.8 1184.7,500.7 1184,505C1183.3,509.3 1184.5,514.7 1186,518C1187.5,521.3 1191.8,523.8 1193,525" stroke-width="2.4" fill="none" />
<path d="M1219.1,487.9L1366.5,574.6" stroke-width="3.5" fill="none" />
<path d="M1192.1,523.8L1368.8,630.8" stroke-width="3.5" fill="none" />
<path d="M1238.7,424.8L1218.4,486" stroke-width="3.5" fill="none" />
<path d="M1229.7,301.2 L1472.4,442.8 L1480,470 L1450,490 L1200,350 L1198,330 Z" stroke-width="0" fill="#fff" />
<path d="M1207.2,348.4C1205.8,346.3 1200.2,341.1 1199,336C1197.8,330.9 1198.7,322.7 1200,318C1201.3,313.3 1204,310.6 1207,308C1210,305.4 1214.2,303.6 1218,302.5C1221.8,301.4 1227.8,301.4 1229.7,301.2" stroke-width="3.5" fill="none" />
<path d="M1229.7,301.2L1472.4,442.8" stroke-width="3.5" fill="none" />
<ellipse cx="1464" cy="468" rx="16.1" ry="27.7" stroke-width="3.5" fill="#fff" transform="rotate(30 1464 468)"/>
<ellipse cx="1465" cy="468.6" rx="12.3" ry="18.1" stroke-width="3.5" fill="#fff" transform="rotate(30 1465 468.6)"/>
<path d="M1444.3,485.5L1427.4,476.5" stroke-width="3.5" fill="none" />
<path d="M1211.7,341.7L1409.4,460.8L1407.2,465.3L1378,494.5L1191.5,393.4L1189.2,391.1L1187,379.9L1211.7,350.7Z" stroke-width="3.5" fill="#fff" />
<ellipse cx="1218.2" cy="347.4" rx="5.5" ry="4.2" stroke-width="2.4" fill="#fff" transform="rotate(31.1 1218.2 347.4)"/>
<ellipse cx="1227.2" cy="352.8" rx="5" ry="4.2" stroke-width="2.4" fill="#fff" transform="rotate(31.1 1227.2 352.8)"/>
<ellipse cx="1237.1" cy="358.7" rx="6.5" ry="4.2" stroke-width="2.4" fill="#fff" transform="rotate(31.1 1237.1 358.7)"/>
<ellipse cx="1247.3" cy="364.9" rx="5.5" ry="4.2" stroke-width="2.4" fill="#fff" transform="rotate(31.1 1247.3 364.9)"/>
<ellipse cx="1258" cy="371.4" rx="7" ry="4.2" stroke-width="2.4" fill="#fff" transform="rotate(31.1 1258 371.4)"/>
<ellipse cx="1269.2" cy="378.1" rx="6" ry="4.2" stroke-width="2.4" fill="#fff" transform="rotate(31.1 1269.2 378.1)"/>
<ellipse cx="1351.4" cy="427.6" rx="6" ry="4.2" stroke-width="2.4" fill="#fff" transform="rotate(31.1 1351.4 427.6)"/>
<ellipse cx="1361.7" cy="433.8" rx="6" ry="4.2" stroke-width="2.4" fill="#fff" transform="rotate(31.1 1361.7 433.8)"/>
<ellipse cx="1373.7" cy="441" rx="8" ry="4.2" stroke-width="2.4" fill="#fff" transform="rotate(31.1 1373.7 441)"/>
<ellipse cx="1386.5" cy="448.8" rx="7" ry="4.2" stroke-width="2.4" fill="#fff" transform="rotate(31.1 1386.5 448.8)"/>
<ellipse cx="1398.5" cy="456" rx="7" ry="4.2" stroke-width="2.4" fill="#fff" transform="rotate(31.1 1398.5 456)"/>
<path d="M1277,386L1342,425" stroke-width="1.8" fill="none" />
<path d="M1275,390L1340,429" stroke-width="1.6" fill="none" />
<ellipse cx="1292.6" cy="422.6" rx="9.5" ry="11.5" stroke-width="3.5" fill="#fff" transform="rotate(20 1292.6 422.6)"/>
<ellipse cx="1291" cy="424.5" rx="7" ry="9" stroke-width="2" fill="#fff" transform="rotate(20 1291 424.5)"/>
<path d="M1362.2,492.2 L1378,495.5 L1407.2,466 L1428,472 L1442.3,487.8 L1451.2,692.5 L1430,705 L1423.4,767.4 L1430.1,902.2 L1387.4,886.5 L1382.3,760 L1368.9,625.7 Z" stroke-width="0" fill="#fff" />
<path d="M1378,494.5L1407.2,465.3" stroke-width="3.5" fill="none" />
<path d="M1381,499L1409,470" stroke-width="2.0" fill="none" />
<path d="M1407.2,465.3L1411,457L1416,452L1427,451.5L1426,459L1421,466L1428,474L1436,480L1442.3,487.8" stroke-width="2.8" fill="none" />
<path d="M1409,470L1418,471L1421,466" stroke-width="2.2" fill="none" />
<path d="M1362.2,492.2C1362.7,503.5 1363.9,537.8 1365,560C1366.1,582.2 1367.1,602.4 1368.9,625.7C1370.7,649 1373.8,677.6 1376,700C1378.2,722.4 1380.8,740 1382.3,760C1383.8,780 1384.2,798.9 1385,820C1385.8,841.1 1387,875.4 1387.4,886.5" stroke-width="3.5" fill="none" />
<path d="M1362.2,492.2L1378,498" stroke-width="3.5" fill="none" />
<path d="M1377.8,503.4C1379.2,511.2 1383.1,535.6 1386,550C1388.9,564.4 1391.7,574.2 1395,590C1398.3,605.8 1402.2,626.4 1406,645C1409.8,663.6 1415.9,692 1417.9,701.4" stroke-width="2.6" fill="none" />
<path d="M1391,505C1392.3,512.5 1396.3,534.2 1399,550C1401.7,565.8 1404.7,584.2 1407,600C1409.3,615.8 1410.8,628.3 1413,645C1415.2,661.7 1418.8,690.8 1420,700" stroke-width="2.6" fill="none" />
<path d="M1379,507L1385,506L1386,522L1381,524L1383,540L1388,541L1389,548L1382,548" stroke-width="2.2" fill="none" />
<path d="M1393,630L1400,628L1406,660L1404,676L1410,690L1417,700" stroke-width="2.2" fill="none" />
<path d="M1442.3,487.8C1442.9,504.8 1444.5,555.9 1446,590C1447.5,624.1 1450.3,675.4 1451.2,692.5" stroke-width="3.5" fill="none" />
<path d="M1391,505L1396,498L1409,484L1420,478" stroke-width="2.4" fill="none" />
<ellipse cx="1418.2" cy="516" rx="8.5" ry="12" stroke-width="3.5" fill="#fff" transform="rotate(25 1418.2 516)"/>
<path d="M1414,523L1421,508" stroke-width="2.2" fill="none" />
<ellipse cx="1421.5" cy="568" rx="8.5" ry="12" stroke-width="3.5" fill="#fff" transform="rotate(25 1421.5 568)"/>
<path d="M1417,575L1424,560" stroke-width="2.2" fill="none" />
<path d="M1417.9,701.4L1426,704L1436,703L1451.2,692.5" stroke-width="2.6" fill="none" />
<path d="M1423.5,771C1423.9,780.8 1424.9,808.1 1426,830C1427.1,851.9 1429.4,890.2 1430.1,902.2" stroke-width="3.5" fill="none" />
<path d="M1432.4,906.7C1435.4,908.2 1446.6,910.8 1450.3,915.7C1454,920.6 1454.8,930 1454.8,936C1454.8,942 1454,947.2 1450.3,951.7C1446.6,956.2 1439.9,959.9 1432.4,962.9C1424.9,965.9 1409.9,968.6 1405.4,969.7" stroke-width="3.5" fill="#fff" />
<path d="M1437,918C1438.3,920 1444,925.5 1445,930C1446,934.5 1445.5,940.8 1443,945C1440.5,949.2 1435.5,952.3 1430,955C1424.5,957.7 1413.3,960 1410,961" stroke-width="2.2" fill="none" />
<path d="M1434,925C1434.7,927.2 1438.2,934.3 1438,938C1437.8,941.7 1436,944.5 1433,947C1430,949.5 1422.2,952 1420,953" stroke-width="2.2" fill="none" />
<path d="M1338,931.5L1356,897.8L1374,893.3L1387.4,895.5L1398.7,906.7L1407.6,915.7L1409.9,947.2L1405.4,969.7Z" stroke-width="3.5" fill="#fff" />
<path d="M1383,895C1384.2,893.8 1387.5,888.8 1390,888C1392.5,887.2 1396,888 1398,890C1400,892 1401.5,896.7 1402,900C1402.5,903.3 1401.2,908.3 1401,910" stroke-width="2.4" fill="#fff" />
<path d="M1371,894L1402,915" stroke-width="2.2" fill="none" />
<path d="M1427.9,816.9 L1522.2,840.4 L1607.6,864 L1634.6,870.8 L1667.4,879.8 L1707.9,879.8 L1734.8,873 L1802.2,846.1 L1847.2,868.5 L1757.3,902.2 L1712.4,915.7 L1667.4,915.7 L1612.1,902.2 L1517.8,879.8 L1427.9,852.8Z" stroke-width="0" fill="#fff" />
<path d="M1427.9,816.9C1443.6,820.8 1492.2,832.5 1522.2,840.4C1552.2,848.2 1588.9,858.9 1607.6,864C1626.3,869.1 1624.6,868.2 1634.6,870.8C1644.6,873.4 1655.2,878.3 1667.4,879.8C1679.6,881.3 1696.7,880.9 1707.9,879.8C1719.1,878.7 1719.1,878.6 1734.8,873C1750.5,867.4 1791,850.6 1802.2,846.1" stroke-width="3.5" fill="none" />
<path d="M1427.9,852.8C1442.9,857.3 1487.1,871.6 1517.8,879.8C1548.5,888 1587.2,896.2 1612.1,902.2C1637,908.2 1650.7,913.5 1667.4,915.7C1684.1,918 1697.4,918 1712.4,915.7C1727.4,913.5 1734.8,910.1 1757.3,902.2C1779.8,894.3 1832.2,874.1 1847.2,868.5" stroke-width="3.5" fill="none" />
<path d="M1454.8,751.7L1499.8,742.7L1612.1,852.8L1605.4,857.3L1522.2,840.4L1448,760.7Z" stroke-width="0" fill="#fff" />
<path d="M1450.2,762L1526.7,843.8" stroke-width="3.5" fill="none" />
<path d="M1454.8,751.7L1499.8,742.7" stroke-width="3.5" fill="none" />
<path d="M1493,745L1605.4,857.3" stroke-width="2.6" fill="none" />
<path d="M1506.5,740.4L1612.1,852.8L1610,860" stroke-width="3.5" fill="none" />
<ellipse cx="1494.2" cy="776.4" rx="10.5" ry="7.5" stroke-width="2.8" fill="#fff" transform="rotate(30 1494.2 776.4)"/>
<path d="M1488,775L1499,780" stroke-width="2" fill="none" />
<ellipse cx="1530.1" cy="813.5" rx="10.5" ry="7.5" stroke-width="2.8" fill="#fff" transform="rotate(30 1530.1 813.5)"/>
<path d="M1524,812L1535,817" stroke-width="2" fill="none" />
<path d="M1441,696 L1449.3,693 L1472,714 L1505,707 L1521,720 L1520,738 L1505,745 L1470,750 L1458.5,753 L1446.5,762 L1425.4,762 L1425.4,717.9 L1441,716 Z" stroke-width="0" fill="#fff" />
<path d="M1468,716C1471.2,715.1 1480.8,711.9 1487,710.5C1493.2,709.1 1501,707.8 1505.5,707.7C1510,707.6 1511.6,708.3 1514,710C1516.4,711.7 1518.8,714.7 1520,718C1521.2,721.3 1521.8,726.3 1521.5,730C1521.2,733.7 1519.9,737.6 1518,740C1516.1,742.4 1513,743.8 1510,744.5C1507,745.2 1503,744.8 1500,744C1497,743.2 1493.3,740.7 1492,740" stroke-width="3.5" fill="none" />
<path d="M1492,740C1490,740.5 1483.7,741.7 1480,743C1476.3,744.3 1473.6,746.4 1470,748C1466.4,749.6 1460.4,751.8 1458.5,752.5" stroke-width="3.5" fill="none" />
<ellipse cx="1516" cy="727" rx="4.5" ry="15.5" stroke-width="2.6" fill="#fff" transform="rotate(5 1516 727)"/>
<ellipse cx="1496.3" cy="730.8" rx="6" ry="8.3" stroke-width="3.5" fill="#fff" transform="rotate(10 1496.3 730.8)"/>
<path d="M1498,724 Q1503,730 1499,738 L1496,737 Q1499,730 1496,724 Z" stroke-width="1.5" fill="#000" />
<path d="M1441.5,695.5L1448,692L1472.5,715.5L1469,720" stroke-width="3.5" fill="none" />
<path d="M1446,700.5L1468,719" stroke-width="2.4" fill="none" />
<path d="M1441.5,695.5L1446,700.5L1451,716L1465,716L1469,720" stroke-width="2.6" fill="none" />
<path d="M1465,716L1462,729L1451,730" stroke-width="2.6" fill="none" />
<path d="M1425.4,718L1440,717L1446.5,760.5" stroke-width="2.6" fill="none" />
<path d="M1425.4,718L1427,755L1430,762" stroke-width="2.6" fill="none" />
<path d="M1413.4,771L1430,764L1446.5,760.5L1451,763" stroke-width="3.5" fill="none" />
<path d="M1414,757L1426,750" stroke-width="2.2" fill="none" />
<path d="M1413.4,699.5L1413.4,771" stroke-width="3.5" fill="none" />
<path d="M1399.6,670L1400.5,692L1413.4,699.5L1421,700L1429,703L1440,702" stroke-width="2.6" fill="none" />
<path d="M1450,733L1451,752L1458.5,752.5" stroke-width="2.4" fill="none" />
<path d="M1427.9,855L1466.1,864L1481.8,870.8L1511,879.8L1490.8,902.2L1463.8,904.5L1432.4,895.5Z" stroke-width="3.5" fill="#fff" />
<path d="M1466.1,864L1463.8,904.5" stroke-width="2.4" fill="none" />
<path d="M1481.8,870.8L1478,903" stroke-width="2.4" fill="none" />
<ellipse cx="1447" cy="878" rx="9" ry="11" stroke-width="2.8" fill="#fff" transform="rotate(-20 1447 878)"/>
<path d="M1442,872L1452,884" stroke-width="1.8" fill="none" />
<path d="M1440,878L1450,889" stroke-width="1.8" fill="none" />
<path d="M1788.8,823.6C1789.3,822.7 1793.4,820.5 1795.5,820.2C1797.6,819.9 1806.6,817.1 1813.5,820.2C1820.4,823.3 1871,852.7 1878.7,857.3C1886.4,861.9 1902.7,872.9 1905.6,875.3C1908.5,877.7 1913.1,884.9 1913.5,886.5C1913.9,888.1 1913,895.1 1910.1,894.4C1907.2,893.6 1881.5,879.3 1878.7,877.5C1875.9,875.7 1879,873.8 1876.4,873C1873.8,872.2 1853.6,871.5 1847.2,868.5C1840.8,865.5 1804.8,840.1 1800,837C1795.2,833.9 1790.9,832.1 1790,831C1789.1,829.9 1788.3,824.5 1788.8,823.6Z" stroke-width="3.5" fill="#fff" />
<path d="M1792,830C1796.7,831.3 1810.3,833.8 1820,838C1829.7,842.2 1840.5,850.3 1850,855C1859.5,859.7 1870.3,864.2 1877,866C1883.7,867.8 1887.8,866 1890,866" stroke-width="2.6" fill="none" />
<path d="M1880,875C1882.5,875.8 1890.5,878 1895,880C1899.5,882 1905,885.8 1907,887" stroke-width="2.2" fill="none" />
<path d="M1533.7,489 L1846.1,666.5 L1846.1,702.5 L1527,523.8 Z" stroke-width="0" fill="#fff" />
<path d="M1533.7,489C1532.1,489.5 1526.8,490.2 1524,492C1521.2,493.8 1518.4,497.1 1517,500C1515.6,502.9 1515.5,506.4 1515.7,509.2C1515.9,512 1516.1,514.6 1518,517C1519.9,519.4 1525.5,522.7 1527,523.8" stroke-width="3.5" fill="none" />
<ellipse cx="1525.5" cy="513.5" rx="4.5" ry="4.5" stroke-width="2.4" fill="#fff"/>
<path d="M1533.7,489L1670.8,565.4" stroke-width="3.5" fill="none" />
<path d="M1674,571L1760.7,621.6L1850,668" stroke-width="3.5" fill="none" />
<path d="M1527,523.8L1652.8,592.4" stroke-width="3.5" fill="none" />
<path d="M1657.3,594.6L1749.4,646.3L1850,704" stroke-width="3.5" fill="none" />
<path d="M1670.8,565.4C1669.7,565.8 1666.3,566.2 1664,568C1661.7,569.8 1658.8,573 1657,576C1655.2,579 1653.7,583.2 1653,586C1652.3,588.8 1653,591.8 1653,593" stroke-width="3.5" fill="none" />
<path d="M1675.3,572.1C1673.9,572.6 1669.4,573.2 1667,575C1664.6,576.8 1662.5,580.3 1661,583C1659.5,585.7 1658.6,589.1 1658,591C1657.4,592.9 1657.4,594 1657.3,594.6" stroke-width="3.5" fill="none" />
<path d="M1654,585L1656,594" stroke-width="3.5" fill="none" />
<path d="M1760.7,621.6C1759.8,622 1756.6,622.3 1755,624C1753.4,625.7 1752,629.3 1751,632C1750,634.7 1749.3,637.6 1749,640C1748.7,642.4 1749.3,645.2 1749.4,646.3" stroke-width="2.6" fill="none" />
<path d="M1762.9,624C1761.9,624.7 1758.5,625.8 1757,628C1755.5,630.2 1754.7,634 1754,637C1753.3,640 1753.3,644 1753,646C1752.7,648 1752.2,648.5 1752,649" stroke-width="1.6" fill="none" />
<path d="M1849.8,665.8C1851.4,659.4 1855.8,654.5 1859.8,651.8C1863.8,649.1 1874.6,648.6 1879.7,645.9C1884.8,643.2 1893.7,634 1897.7,631.9C1901.7,629.8 1906.4,629.1 1909.6,629.9C1912.8,630.7 1919.7,635 1921.6,637.9C1923.5,640.8 1923.9,648.3 1923.6,651.8C1923.3,655.3 1920.9,660.1 1919.6,663.8C1918.3,667.5 1915.5,673.8 1913.6,679.7C1911.7,685.6 1908.3,701.3 1905.6,707.7C1902.9,714.1 1898,723.3 1893.7,727.6C1889.4,731.9 1878.5,738.3 1873.7,739.6C1868.9,740.9 1861,739.2 1857.8,737.6C1854.6,736 1851.1,732.7 1849.8,727.6C1848.5,722.5 1847.8,707.9 1847.8,699.7C1847.8,691.5 1848.2,672.2 1849.8,665.8Z" stroke-width="3.5" fill="#fff" />
<path d="M1860,665C1860.4,664.3 1860.3,661.5 1863,660C1865.7,658.5 1875.3,656.5 1880,654C1884.7,651.5 1894.1,643.1 1898,641C1901.9,638.9 1906.5,637.7 1909,638C1911.5,638.3 1915.8,641.1 1917,643C1918.2,644.9 1918.5,649.2 1918,652C1917.5,654.8 1914.6,660.3 1913,664C1911.4,667.7 1907.9,674.5 1906,680C1904.1,685.5 1901.3,699.4 1899,705C1896.7,710.6 1892.3,718.5 1889,722C1885.7,725.5 1877.6,730.1 1874,731C1870.4,731.9 1864.1,730.5 1862,729C1859.9,727.5 1858.7,723.9 1858,720C1857.3,716.1 1857,705.3 1857,700C1857,694.7 1857.6,684.7 1858,680C1858.4,675.3 1859.7,667 1860,665" stroke-width="1.8" fill="none" />
<ellipse cx="1909.6" cy="653" rx="5.5" ry="7.5" stroke-width="2.6" fill="#fff" transform="rotate(15 1909.6 653)"/>
<ellipse cx="1881.7" cy="710.6" rx="9.5" ry="15" stroke-width="3.5" fill="#fff" transform="rotate(25 1881.7 710.6)"/>
<path d="M1873.7,663.8C1872.8,664.2 1869.5,664.5 1868,666C1866.5,667.5 1865.4,669.7 1865,673C1864.6,676.3 1865.7,683.6 1865.8,685.7" stroke-width="2.6" fill="none" />
<path d="M1873.7,663.8L1909,680" stroke-width="2.6" fill="none" />
<path d="M1865.8,685.7L1901.6,701.7" stroke-width="2.6" fill="none" />
<path d="M1910,691 L1925,696 L1928,714 L1912,712 Z" stroke-width="0" fill="#fff" />
<ellipse cx="1913" cy="702" rx="6" ry="10" stroke-width="2.4" fill="#fff" transform="rotate(20 1913 702)"/>
<path d="M1914,692L1924,692.5" stroke-width="2.6" fill="none" />
<path d="M1916,712L1926,715" stroke-width="2.6" fill="none" />
<ellipse cx="1925.6" cy="703.7" rx="7.5" ry="11.5" stroke-width="3.5" fill="#fff" transform="rotate(20 1925.6 703.7)"/>
<path d="M1921.6,661.8L2021.3,717.6" stroke-width="2.2"/>
<ellipse cx="1834.5" cy="614" rx="19.5" ry="21" stroke-width="4.2" fill="#fff"/>
<ellipse cx="1840.5" cy="616.5" rx="13.5" ry="17" stroke-width="2.4" fill="#fff"/>
<ellipse cx="1843.5" cy="618" rx="7" ry="10" stroke-width="2.6" fill="#fff"/>
<path d="M1821,604C1820.5,605.7 1818,610.5 1818,614C1818,617.5 1819.3,622.2 1821,625C1822.7,627.8 1826.8,630 1828,631" stroke-width="1.6" fill="none" />
<path d="M2023.2,716.6 L2057.1,731.6 L2053.2,739.6 L2022.3,727.6 Z" stroke-width="3.5" fill="#fff" />
<path d="M2023.2,716.6C2022.8,717.2 2021,718.7 2020.5,720C2020,721.3 2020.2,723.2 2020.5,724.5C2020.8,725.8 2022,727.1 2022.3,727.6" stroke-width="3.5" fill="none" />
<path d="M2027,718.5L2025.5,728.5" stroke-width="2.2" fill="none" />
<path d="M2032.2,720.9L2030.7,730.9" stroke-width="2.2" fill="none" />
<path d="M2037.4,723.3L2035.9,733.3" stroke-width="2.2" fill="none" />
<path d="M2042.6,725.7L2041.1,735.7" stroke-width="2.2" fill="none" />
<path d="M2047.8,728.1L2046.3,738.1" stroke-width="2.2" fill="none" />
<path d="M2053,730.5L2051.5,740.5" stroke-width="2.2" fill="none" />
<ellipse cx="2063" cy="741" rx="10" ry="15" stroke-width="3.5" fill="#fff" transform="rotate(20 2063 741)"/>
<path d="M2063,726 L2076,729 L2081,757 L2066,756 Z" stroke-width="0" fill="#fff" />
<path d="M2063,726L2074,729" stroke-width="3.5" fill="none" />
<path d="M2066,756L2078,758" stroke-width="3.5" fill="none" />
<path d="M2057,733L2060,740L2057,748L2060,752" stroke-width="2.2" fill="none" />
<ellipse cx="2074" cy="743.5" rx="10.5" ry="15" stroke-width="3.5" fill="#fff" transform="rotate(15 2074 743.5)"/>
<path d="M1618,735.7L1638,725.7L1680.9,745.7L1680.9,794L1656.3,805.5L1640.4,798.9L1618,786Z" stroke-width="0" fill="#fff" />
<path d="M1618,735.7L1655.6,759.5L1680.9,745.7" stroke-width="3.5" fill="none" />
<path d="M1618,735.7L1638,725.7" stroke-width="3.5" fill="none" />
<path d="M1638,725.7L1680.9,745.7" stroke-width="2.4" fill="none" />
<path d="M1655.8,759.5L1656.3,805.5L1680.9,794L1680.9,745.7L1678,744" stroke-width="3.5" fill="none" />
<path d="M1618,735.7L1618,764" stroke-width="3.5" fill="none" />
<path d="M1640,797L1656.3,805.5" stroke-width="3.5" fill="none" />
<ellipse cx="1640.5" cy="730" rx="4.5" ry="6" stroke-width="3.6" fill="#fff"/>
<ellipse cx="1641" cy="730.5" rx="1.3" ry="1.8" stroke-width="0" fill="#fff"/>
<ellipse cx="1653" cy="736.5" rx="4.5" ry="6" stroke-width="3.6" fill="#fff"/>
<ellipse cx="1653.5" cy="737" rx="1.3" ry="1.8" stroke-width="0" fill="#fff"/>
<ellipse cx="1663" cy="742.5" rx="4.5" ry="6" stroke-width="3.6" fill="#fff"/>
<ellipse cx="1663.5" cy="743" rx="1.3" ry="1.8" stroke-width="0" fill="#fff"/>
<ellipse cx="1637" cy="782" rx="9.5" ry="20" stroke-width="3.5" fill="#fff"/>
<path d="M1607,774 Q1608,765 1616,764 L1628,763 Q1635,765 1636,775 L1636,795 Q1635,802 1628,803 L1614,803 Q1607,801 1607,794 Z" stroke-width="3.5" fill="#fff" />
<path d="M1610,772L1620,768L1626,775" stroke-width="2.4" fill="none" />
<path d="M1620,768L1621,801" stroke-width="2.4" fill="none" />
<path d="M1637,768L1638,780" stroke-width="3.2" fill="none" />
<path d="M1576.2,810.1L1606.5,794.4" stroke-width="2.2"/>
<path d="M1940.7,404.5 L1987,404.5 Q1990.5,404.5 1990.5,413.5 Q1990.5,422.5 1987,422.5 L1940.7,422.5 Z" stroke-width="3.5" fill="#fff" />
<path d="M1947,405.5L1947,421.5" stroke-width="2.2" fill="none" />
<path d="M1953,405.5L1953,421.5" stroke-width="2.2" fill="none" />
<path d="M1959,405.5L1959,421.5" stroke-width="2.2" fill="none" />
<path d="M1965,405.5L1965,421.5" stroke-width="2.2" fill="none" />
<path d="M1971,405.5L1971,421.5" stroke-width="2.2" fill="none" />
<path d="M1977,405.5L1977,421.5" stroke-width="2.2" fill="none" />
<path d="M1983,405.5L1983,421.5" stroke-width="2.2" fill="none" />
<path d="M1912,399 L1936,398.5 Q1942,400 1942,416 Q1942,433 1936,434.5 L1912,435 Z" stroke-width="3.5" fill="#fff" />
<path d="M1922,400L1930,406L1930,426L1922,433" stroke-width="2.2" fill="none" />
<ellipse cx="1911.5" cy="416.9" rx="10.8" ry="18" stroke-width="3.5" fill="#fff"/>
<path d="M1998,412.4L2019.3,412.4" stroke-width="2.4"/>
<path d="M2349.6,187 L2290,198 L2212.4,214 L2190,224 L2160,238 L2134.6,254.5 L2090,298 L2041.9,342.7 L2029.9,351.7 L2020.9,366.6 L2017.9,377.1 L2017.2,399.5 L2019.4,419 L2029.9,430.9 L2049.3,433.9 L2074.8,429.4 L2083.7,422 L2089.7,407 L2095.7,384.6 L2097.2,366.6 L2140,321 L2182.4,276.9 L2215,258 L2235,250 L2285,238 L2330,226 L2369,218.2 L2379.5,214.3 L2387.4,203.9 L2390,194.7 L2369,197.3Z" stroke-width="0" fill="#fff" />
<path d="M2349.6,187C2339.7,188.8 2312.9,193.5 2290,198C2267.1,202.5 2229.1,209.7 2212.4,214C2195.7,218.3 2198.7,220 2190,224C2181.3,228 2169.2,232.9 2160,238C2150.8,243.1 2146.3,244.5 2134.6,254.5C2122.9,264.5 2105.4,283.3 2090,298C2074.6,312.7 2051.9,333.8 2041.9,342.7C2031.9,351.6 2033.4,347.7 2029.9,351.7C2026.4,355.7 2022.9,362.4 2020.9,366.6C2018.9,370.8 2018.5,371.6 2017.9,377.1C2017.3,382.6 2017,392.5 2017.2,399.5C2017.5,406.5 2017.3,413.8 2019.4,419C2021.5,424.2 2024.9,428.4 2029.9,430.9C2034.9,433.4 2041.8,434.1 2049.3,433.9C2056.8,433.6 2069.1,431.4 2074.8,429.4C2080.5,427.4 2081.2,425.7 2083.7,422C2086.2,418.3 2087.7,413.2 2089.7,407C2091.7,400.8 2094.4,391.3 2095.7,384.6C2096.9,377.9 2089.8,377.2 2097.2,366.6C2104.6,356 2125.8,335.9 2140,321C2154.2,306.1 2175.3,284.2 2182.4,276.9" stroke-width="3.5" fill="none" />
<path d="M2230,253C2233.3,252 2240.8,249.5 2250,247C2259.2,244.5 2271.7,241.5 2285,238C2298.3,234.5 2316,229.3 2330,226C2344,222.7 2360.8,220.1 2369,218.2C2377.2,216.2 2376.4,216.7 2379.5,214.3C2382.6,211.9 2385.7,207.2 2387.4,203.9C2389.2,200.6 2389.6,196.2 2390,194.7" stroke-width="3.5" fill="none" />
<path d="M2369,197.3C2362.5,198.2 2344.8,200.6 2330,203C2315.2,205.4 2297.7,208.7 2280,212C2262.3,215.3 2239,218.9 2224,222.9C2209,226.9 2203.4,230 2190,236C2176.6,242 2156.9,248.7 2143.6,259C2130.3,269.3 2121,284.6 2110,298C2099,311.4 2083.2,332.8 2077.8,339.7" stroke-width="2.8" fill="none" />
<path d="M2212.4,214L2224,222.9" stroke-width="2.4" fill="none" />
<path d="M2134.6,254.5L2143.6,259" stroke-width="2.4" fill="none" />
<path d="M2092.7,336C2098.9,329.8 2117.8,310.8 2130,299C2142.2,287.2 2159,270.3 2166,265C2173,259.7 2171,265.8 2172,267C2173,268.2 2172.2,271.1 2172,272.5C2171.8,273.9 2176.8,269 2170.5,275.4C2164.2,281.8 2146,299 2134,311C2122,323 2105.5,341.7 2098.7,347.2C2091.9,352.7 2094,345.9 2093,344C2092,342.1 2092.8,337.3 2092.7,336" stroke-width="2.6" fill="none" />
<path d="M2099,337C2105,331.2 2123.8,312.8 2135,302C2146.2,291.2 2160.8,277 2166,272" stroke-width="1.8" fill="none" />
<path d="M2103,342C2108.8,336.2 2127.2,317.7 2138,307C2148.8,296.3 2163,282.8 2168,278" stroke-width="1.6" fill="none" />
<path d="M2182.4,276.5L2185,266L2214.8,252L2228.3,255.5L2231,262L2230.6,270L2224,274.5L2219,272L2218,266L2190,276Z" stroke-width="3.5" fill="#fff" />
<path d="M2185,266L2190,268L2218,259L2222,264" stroke-width="2.2" fill="none" />
<path d="M2068.8,364C2068.8,361.7 2068,353.7 2068.5,350C2069,346.3 2070.2,343.8 2072,342C2073.8,340.2 2076.5,339.7 2079,339.5C2081.5,339.3 2084.7,339.6 2087,341C2089.3,342.4 2091.7,344.8 2093,348C2094.3,351.2 2094.7,358 2095,360" stroke-width="2.6" fill="#fff" />
<path d="M2068.8,364L2068.8,357" stroke-width="2.4" fill="none" />
<path d="M2020.9,374C2022.4,373.7 2026.8,372.2 2030,372C2033.2,371.8 2036.5,371.7 2040,373C2043.5,374.3 2048.2,376.6 2050.8,380C2053.4,383.4 2054.8,388.9 2055.3,393.6C2055.8,398.4 2054.8,404.3 2053.8,408.5C2052.8,412.7 2050.6,416.4 2049.3,419C2048,421.6 2046.5,423.2 2046,424" stroke-width="2.4" fill="none" />
<path d="M2020,372L2020,390" stroke-width="3.5" fill="none" />
<ellipse cx="2032.9" cy="410.7" rx="6.2" ry="8.5" stroke-width="3.5" fill="#fff"/>
<path d="M2015,412L2027,412" stroke-width="2.2" fill="none" />
<ellipse cx="2076.3" cy="391.3" rx="14" ry="27" stroke-width="3.5" fill="#fff" transform="rotate(22 2076.3 391.3)"/>
<ellipse cx="2074.5" cy="388" rx="10.5" ry="16" stroke-width="2.6" fill="#fff" transform="rotate(22 2074.5 388)"/>
<path d="M2069.5,372.9L2079.5,377.9" stroke-width="2.2" fill="none" />
<path d="M2067,377.1L2082,382.1" stroke-width="2.2" fill="none" />
<path d="M2065.9,381.3L2083.1,386.3" stroke-width="2.2" fill="none" />
<path d="M2065.5,385.5L2083.5,390.5" stroke-width="2.2" fill="none" />
<path d="M2065.9,389.7L2083.1,394.7" stroke-width="2.2" fill="none" />
<path d="M2067,393.9L2082,398.9" stroke-width="2.2" fill="none" />
<path d="M2069.5,398.1L2079.5,403.1" stroke-width="2.2" fill="none" />
<path d="M2069,402C2068.8,403.3 2067.8,407.3 2068,410C2068.2,412.7 2070,415.5 2070,418C2070,420.5 2068.3,423.8 2068,425" stroke-width="2.2" fill="none" />
<path d="M2076,404C2075.7,405.3 2074.5,409.3 2074,412C2073.5,414.7 2073.2,418.7 2073,420" stroke-width="2.2" fill="none" />
<path d="M2346,132 L2402,132 L2402,172 L2391,194 L2369,195 L2352,187 L2349,168 Z" stroke-width="0" fill="#fff" />
<path d="M2346.3,134C2346.3,136.7 2346.3,144.7 2346.3,150C2346.3,155.3 2345.9,162.8 2346.5,166C2347.1,169.2 2349.1,168.5 2349.6,169" stroke-width="3.5" fill="none" />
<path d="M2401.7,134L2401.7,152" stroke-width="3.5" fill="none" />
<path d="M2349.6,168.7C2353.1,169.6 2363.4,173.5 2370.4,173.9C2377.4,174.3 2387.8,171.7 2391.3,171.3" stroke-width="2.8" fill="none" />
<path d="M2350.9,170C2351.1,172.8 2349,182.9 2352,187C2355,191.1 2362.5,193.6 2369,194.7C2375.5,195.8 2386.8,195 2391,193.4C2395.2,191.8 2393.5,186.4 2394,185" stroke-width="3.5" fill="none" />
<path d="M2370.4,173.9L2371.7,193.4" stroke-width="2.4" fill="none" />
<ellipse cx="2374" cy="138" rx="27.5" ry="7" stroke-width="3.5" fill="#fff"/>
<path d="M2351,110 L2398,110 L2398,135 L2351,135 Z" stroke-width="0" fill="#fff" />
<path d="M2351,110L2351,134" stroke-width="3.5" fill="none" />
<path d="M2397.8,110L2397.8,134" stroke-width="3.5" fill="none" />
<path d="M2352,119 Q2374.3,127 2396.8,119" stroke-width="2.6" fill="none" />
<path d="M2352,125.6 Q2374.3,133.6 2396.8,125.6" stroke-width="2.6" fill="none" />
<path d="M2352,131.5 Q2374.3,139.5 2396.8,131.5" stroke-width="2.6" fill="none" />
<ellipse cx="2374.3" cy="110" rx="23.5" ry="7" stroke-width="3.5" fill="#fff"/>
<path d="M2364,97 L2384,97 L2384,112 Q2374,116 2364,112 Z" stroke-width="3.5" fill="#fff" />
<ellipse cx="2373.7" cy="97" rx="10" ry="3.8" stroke-width="3.5" fill="#fff"/>
<path d="M2367,101 L2381,101 L2381,111" stroke-width="2" fill="none" />
<path d="M2384.2,187.1 L2482.2,230.1 L2499.8,189.9 L2401.8,146.9Z" stroke-width="0" fill="#fff" />
<ellipse cx="2393.9" cy="167.4" rx="7" ry="20" stroke-width="3.5" fill="#fff" transform="rotate(23.7 2393.9 167.4)"/>
<ellipse cx="2401.2" cy="170.6" rx="10.5" ry="23" stroke-width="3.8" fill="#fff" transform="rotate(23.7 2401.2 170.6)"/>
<ellipse cx="2404" cy="171.8" rx="6" ry="16.5" stroke-width="2.6" fill="#fff" transform="rotate(23.7 2404 171.8)"/>
<ellipse cx="2419.1" cy="178.5" rx="10.5" ry="23" stroke-width="3.8" fill="#fff" transform="rotate(23.7 2419.1 178.5)"/>
<ellipse cx="2421.8" cy="179.7" rx="6" ry="16.5" stroke-width="2.6" fill="#fff" transform="rotate(23.7 2421.8 179.7)"/>
<ellipse cx="2437" cy="186.3" rx="10.5" ry="23" stroke-width="3.8" fill="#fff" transform="rotate(23.7 2437 186.3)"/>
<ellipse cx="2439.7" cy="187.5" rx="6" ry="16.5" stroke-width="2.6" fill="#fff" transform="rotate(23.7 2439.7 187.5)"/>
<ellipse cx="2454.8" cy="194.1" rx="10.5" ry="23" stroke-width="3.8" fill="#fff" transform="rotate(23.7 2454.8 194.1)"/>
<ellipse cx="2457.6" cy="195.3" rx="6" ry="16.5" stroke-width="2.6" fill="#fff" transform="rotate(23.7 2457.6 195.3)"/>
<ellipse cx="2472.7" cy="202" rx="10.5" ry="23" stroke-width="3.8" fill="#fff" transform="rotate(23.7 2472.7 202)"/>
<ellipse cx="2475.4" cy="203.2" rx="6" ry="16.5" stroke-width="2.6" fill="#fff" transform="rotate(23.7 2475.4 203.2)"/>
<ellipse cx="2491" cy="210" rx="15.5" ry="23" stroke-width="3.5" fill="#fff" transform="rotate(23.7 2491 210)"/>
<path d="M2493.9,188.4C2491.9,191.3 2484.7,199.6 2481.8,206C2479,212.4 2477.9,223.3 2477.1,226.8" stroke-width="2" fill="none" />
<path d="M76.1,424.5 L80.2,424.5 L80.2,455 L76.1,455 L76.1,433.5 L69.7,433.8 L69.7,430.1 Q73.9,428.8 76.1,424.5 Z" fill="#000" stroke="none"/>
<path d="M99.7,424.5 L103.8,424.5 L103.8,455 L99.7,455 L99.7,433.5 L93.3,433.8 L93.3,430.1 Q97.5,428.8 99.7,424.5 Z" fill="#000" stroke="none"/>
<text x="298.7" y="492.5" font-size="42.5" text-anchor="start" style="stroke:#000;stroke-width:0.8px">9</text>
<path d="M577.6,505.5 L581.7,505.5 L581.7,536 L577.6,536 L577.6,514.5 L571.2,514.8 L571.2,511.1 Q575.4,509.8 577.6,505.5 Z" fill="#000" stroke="none"/>
<text x="590" y="536" font-size="42.5" text-anchor="start" style="stroke:#000;stroke-width:0.8px">0</text>
<text x="434.9" y="746" font-size="42.5" text-anchor="start" style="stroke:#000;stroke-width:0.8px">2</text>
<path d="M788.4,701.1 L792.5,701.1 L792.5,731.6 L788.4,731.6 L788.4,710.1 L782,710.4 L782,706.7 Q786.2,705.4 788.4,701.1 Z" fill="#000" stroke="none"/>
<text x="800.8" y="731.6" font-size="42.5" text-anchor="start" style="stroke:#000;stroke-width:0.8px">6</text>
<text x="398.7" y="991" font-size="42.5" text-anchor="start" style="stroke:#000;stroke-width:0.8px">6</text>
<path d="M977.5,210.7 L981.6,210.7 L981.6,241.2 L977.5,241.2 L977.5,219.7 L971.1,220 L971.1,216.3 Q975.3,215 977.5,210.7 Z" fill="#000" stroke="none"/>
<text x="989.9" y="241.2" font-size="42.5" text-anchor="start" style="stroke:#000;stroke-width:0.8px">4</text>
<path d="M1153.2,160.6 L1157.3,160.6 L1157.3,191.1 L1153.2,191.1 L1153.2,169.6 L1146.8,169.9 L1146.8,166.2 Q1151,164.9 1153.2,160.6 Z" fill="#000" stroke="none"/>
<text x="1165.6" y="191.1" font-size="42.5" text-anchor="start" style="stroke:#000;stroke-width:0.8px">3</text>
<text x="1543.5" y="271.7" font-size="42.5" text-anchor="start" style="stroke:#000;stroke-width:0.8px">5</text>
<text x="1076.4" y="462" font-size="42.5" text-anchor="start" style="stroke:#000;stroke-width:0.8px">3</text>
<text x="1695.5" y="521.6" font-size="42.5" text-anchor="start" style="stroke:#000;stroke-width:0.8px">4</text>
<text x="1825.3" y="521.6" font-size="42.5" text-anchor="start" style="stroke:#000;stroke-width:0.8px">7</text>
<path d="M1615.7,640.5 L1619.8,640.5 L1619.8,671 L1615.7,671 L1615.7,649.5 L1609.3,649.8 L1609.3,646.1 Q1613.5,644.8 1615.7,640.5 Z" fill="#000" stroke="none"/>
<text x="1628.1" y="671" font-size="42.5" text-anchor="start" style="stroke:#000;stroke-width:0.8px">5</text>
<text x="2058.7" y="653.8" font-size="42.5" text-anchor="start" style="stroke:#000;stroke-width:0.8px">8</text>
<path d="M1900.8,299.8 L1904.9,299.8 L1904.9,330.3 L1900.8,330.3 L1900.8,308.8 L1894.4,309.1 L1894.4,305.4 Q1898.6,304.1 1900.8,299.8 Z" fill="#000" stroke="none"/>
<text x="1913.2" y="330.3" font-size="42.5" text-anchor="start" style="stroke:#000;stroke-width:0.8px">2</text>
<path d="M2281.9,310.5 L2286,310.5 L2286,341 L2281.9,341 L2281.9,319.5 L2275.5,319.8 L2275.5,316.1 Q2279.7,314.8 2281.9,310.5 Z" fill="#000" stroke="none"/>
<path d="M91,464L91,524" stroke-width="2.6"/>
<path d="M311.2,503.8L311.2,563.8" stroke-width="2.6"/>
<path d="M591,546L591,599" stroke-width="2.6"/>
<path d="M447.5,645L447.5,705" stroke-width="2.6"/>
<path d="M713.6,716.9L772.5,716.9" stroke-width="2.6"/>
<path d="M327.5,975L387.5,975" stroke-width="2.6"/>
<path d="M1017.6,226.3L1079.6,226.3" stroke-width="2.6"/>
<path d="M1167.1,200.8L1167.1,260.7" stroke-width="2.6"/>
<path d="M1471.5,257.4L1529.8,257.4" stroke-width="2.6"/>
<path d="M1107.9,446.3L1167.4,446.3" stroke-width="2.6"/>
<path d="M1709,531.7L1709,590.1" stroke-width="2.6"/>
<path d="M1836,531.7L1836,592.4" stroke-width="2.6"/>
<path d="M1628,680L1628,731.7" stroke-width="2.6"/>
<path d="M2071,666.8L2071,724.6" stroke-width="2.6"/>
<path d="M1913.7,339.3L1913.7,397.8" stroke-width="2.6"/>
<path d="M2282.5,240L2282.5,300" stroke-width="2.6"/>
<text x="2188.5" y="1212.6" font-size="31" text-anchor="start" textLength="150" lengthAdjust="spacingAndGlyphs" style="stroke:#000;stroke-width:0.7px">KVGVF200</text>
<path d="M2345.6,1190.2 L2349.2,1190.2 L2349.2,1212.6 L2345.6,1212.6 L2345.6,1197.5 L2341.5,1197.7 L2341.5,1195 Q2344.3,1193.8 2345.6,1190.2 Z" fill="#000" stroke="none"/>
</svg>
</body></html>
